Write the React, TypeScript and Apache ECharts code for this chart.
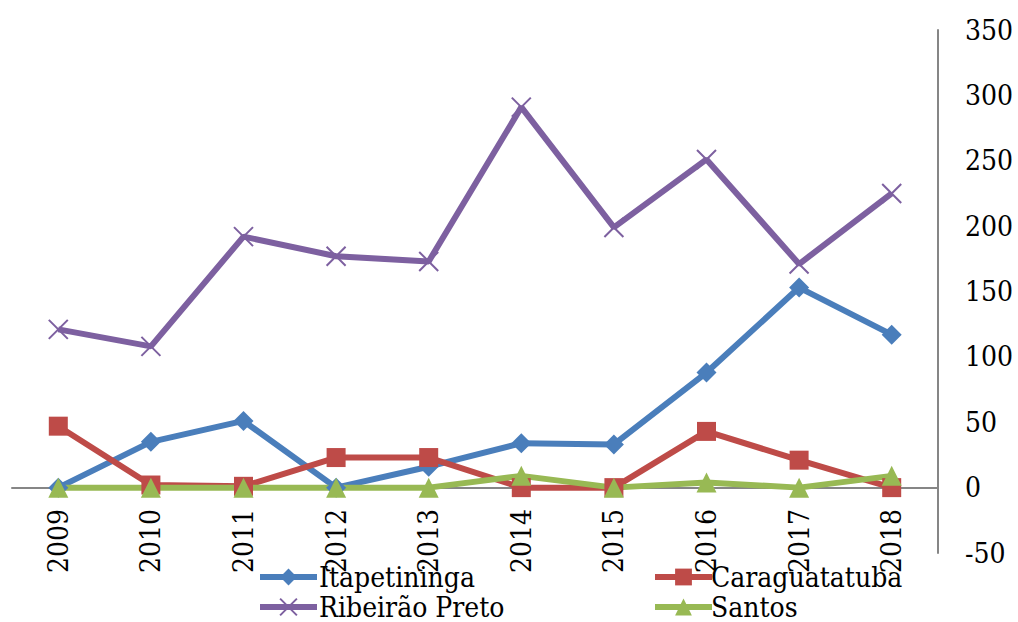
import React, { useEffect, useRef } from "react";
import * as echarts from "echarts";

const years = ["2009", "2010", "2011", "2012", "2013", "2014", "2015", "2016", "2017", "2018"];
const itapetininga = [0, 35, 51, 0, 16, 34, 33, 88, 153, 117];
const caraguatatuba = [47, 2, 1, 23, 23, 0, 0, 43, 21, 0];
const ribeiraoPreto = [121, 108, 192, 177, 173, 291, 199, 251, 171, 225];
const santos = [0, 0, 0, 0, 0, 9, 0, 4, 0, 9];

const FONT = "DejaVu Serif Condensed";

export default function App() {
  const ref = useRef<HTMLDivElement>(null);
  useEffect(() => {
    if (!ref.current) return;
    const chart = echarts.init(ref.current, undefined, { renderer: "svg" });
    const mkLegend = (name: string, left: number, top: number, pad: number) => ({
      data: [name],
      left,
      top,
      padding: 0,
      itemWidth: 57,
      itemHeight: 21,
      itemGap: 0,
      lineStyle: { width: 6 },
      textStyle: {
        fontFamily: FONT,
        fontSize: 28,
        lineHeight: 28,
        color: "#000",
        padding: [0, 0, 0, pad],
      },
    });
    chart.setOption({
      animation: false,
      backgroundColor: "#fff",
      textStyle: { fontFamily: FONT },
      grid: { left: 12, right: 80, top: 30, bottom: 69 },
      legend: [
        mkLegend("Itapetininga", 257, 563, -3),
        mkLegend("Caraguatatuba", 652, 563, -6),
        mkLegend("Ribeirão Preto", 257, 593, -3),
        mkLegend("Santos", 652, 593, -6),
      ],
      xAxis: {
        type: "category",
        data: years,
        boundaryGap: true,
        axisLine: { onZero: true, lineStyle: { color: "#868686", width: 2 } },
        axisTick: { show: false },
        axisLabel: {
          rotate: 90,
          fontFamily: FONT,
          fontSize: 28,
          color: "#000",
          margin: -44,
        },
        splitLine: { show: false },
      },
      yAxis: {
        type: "value",
        position: "right",
        min: -50,
        max: 350,
        interval: 50,
        axisLine: { show: true, lineStyle: { color: "#868686", width: 2 } },
        axisTick: { show: false },
        splitLine: { show: false },
        axisLabel: { fontFamily: FONT, fontSize: 28, color: "#000", margin: 27 },
      },
      series: [
        {
          name: "Itapetininga",
          type: "line",
          data: itapetininga,
          symbol: "diamond",
          symbolSize: 20,
          lineStyle: { color: "#4A7EBB", width: 6 },
          itemStyle: { color: "#4A7EBB" },
        },
        {
          name: "Caraguatatuba",
          type: "line",
          data: caraguatatuba,
          symbol: "rect",
          symbolSize: 19,
          lineStyle: { color: "#BE4B48", width: 6 },
          itemStyle: { color: "#BE4B48" },
        },
        {
          name: "Ribeirão Preto",
          type: "line",
          data: ribeiraoPreto,
          symbol: "path://M0,0L20,20M20,0L0,20",
          symbolSize: 19,
          lineStyle: { color: "#7D60A0", width: 6 },
          itemStyle: { color: "#7D60A0", borderColor: "#7D60A0", borderWidth: 2 },
        },
        {
          name: "Santos",
          type: "line",
          data: santos,
          symbol: "triangle",
          symbolSize: 20,
          lineStyle: { color: "#98B954", width: 6 },
          itemStyle: { color: "#98B954" },
        },
      ],
    });
    return () => chart.dispose();
  }, []);
  return (
    <div
      ref={ref}
      style={{ position: "fixed", left: 0, top: 0, width: 1018, height: 622 }}
    />
  );
}
